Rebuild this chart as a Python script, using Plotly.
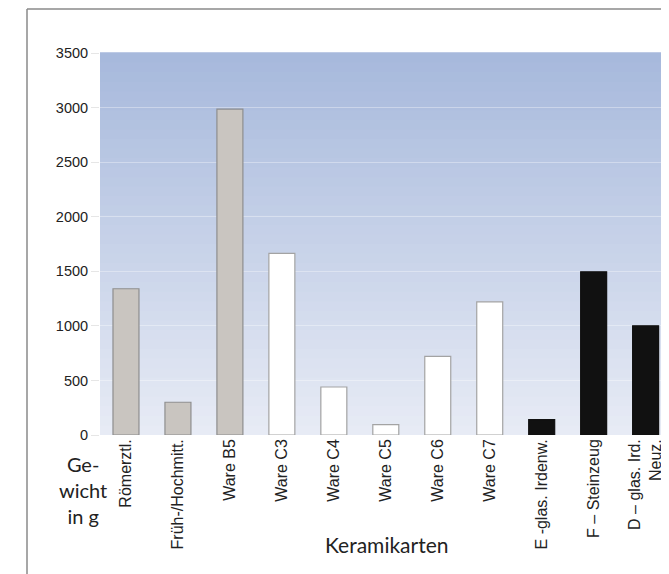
import plotly.graph_objects as go

categories = ["Römerztl.", "Früh-/Hochmitt.", "Ware B5", "Ware C3", "Ware C4", "Ware C5",
              "Ware C6", "Ware C7", "E -glas. Irdenw.", "F – Steinzeug", "D – glas. Ird.<br>Neuz."]
weights = [1340, 300, 2985, 1665, 440, 95, 720, 1220, 140, 1495, 1000]
groups = ["grey", "grey", "grey", "white", "white", "white", "white", "white", "black", "black", "black"]
y_ticks = [0, 500, 1000, 1500, 2000, 2500, 3000, 3500]

fill = {"grey": "#c9c5c0", "white": "#ffffff", "black": "#111111"}
edge = {"grey": "#8e8e8e", "white": "#a3a3a3", "black": "#111111"}

fig = go.Figure()
fig.add_trace(go.Bar(
    x=categories, y=weights, width=0.5,
    marker=dict(color=[fill[g] for g in groups],
                line=dict(color=[edge[g] for g in groups], width=1.2)),
    showlegend=False, hoverinfo="skip",
))

# vertical gradient background (stacked bands)
top_c = (167, 185, 220)
bot_c = (231, 235, 245)
n = 40
shapes = []
for i in range(n):
    t = i / (n - 1)
    c = tuple(int(round(bot_c[k] + (top_c[k] - bot_c[k]) * t)) for k in range(3))
    shapes.append(dict(type="rect", xref="paper", yref="paper", x0=0, x1=1.01,
                       y0=i / n, y1=(i + 1) / n + 0.002, layer="below",
                       line=dict(width=0), fillcolor="rgb(%d,%d,%d)" % c))
# outer frame (left and top lines)
shapes.append(dict(type="line", xref="paper", yref="paper", x0=-0.1283, x1=-0.1283,
                   y0=1.115, y1=-0.4, line=dict(color="#8a8a8a", width=1.5)))
shapes.append(dict(type="line", xref="paper", yref="paper", x0=-0.1283, x1=1.02,
                   y0=1.115, y1=1.115, line=dict(color="#8a8a8a", width=1.5)))

fig.update_layout(
    width=661, height=566,
    margin=dict(l=92, r=0, t=45, b=139),
    paper_bgcolor="white", plot_bgcolor="rgba(0,0,0,0)",
    shapes=shapes,
    xaxis=dict(range=[-0.5, 10.45], tickangle=-90, showgrid=False, zeroline=False,
               showline=False, ticks="",
               tickfont=dict(family="Liberation Sans, Arial", size=16, color="#222")),
    yaxis=dict(range=[0, 3500], tickvals=y_ticks, showgrid=True,
               gridcolor="rgba(255,255,255,0.35)", zeroline=False, showline=False,
               ticks="outside", ticklen=8, tickcolor="#e6e6e6",
               tickfont=dict(family="Liberation Sans, Arial", size=14.5, color="#222")),
    annotations=[
        dict(text="Ge-<br>wicht<br>in g", xref="paper", yref="paper",
             x=(75 - 92) / 569, y=-(482 - 427) / 382, xanchor="center", yanchor="middle",
             showarrow=False, align="center",
             font=dict(family="Lato, Noto Sans", size=20, color="#222")),
        dict(text="Keramikarten", xref="paper", yref="paper",
             x=(378 - 92) / 569, y=-(536 - 427) / 382, xanchor="center", yanchor="middle",
             showarrow=False, font=dict(family="Lato, Noto Sans", size=21, color="#222")),
    ],
)

fig.write_html("out.html")
